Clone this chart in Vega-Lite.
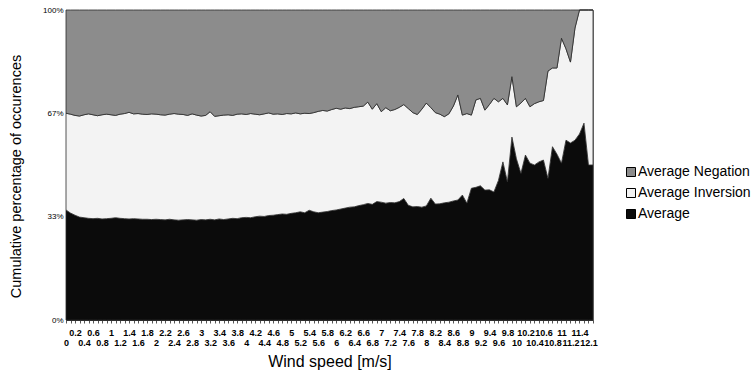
{
  "$schema": "https://vega.github.io/schema/vega-lite/v6.json",
  "width": 527,
  "height": 310,
  "autosize": {"type": "none"},
  "padding": {"left": 66, "top": 10, "right": 162, "bottom": 55},
  "background": "white",
  "config": {
    "font": "Liberation Sans",
    "view": {"stroke": "#808080", "strokeWidth": 1}
  },
  "data": {
    "values": [
      {"speed": "0", "Average": 35.5, "Average Inversion": 31.2, "Average Negation": 33.3},
      {"speed": "0.1", "Average": 34.5, "Average Inversion": 31.9, "Average Negation": 33.6},
      {"speed": "0.2", "Average": 33.8, "Average Inversion": 32.2, "Average Negation": 34.0},
      {"speed": "0.3", "Average": 33.2, "Average Inversion": 32.6, "Average Negation": 34.2},
      {"speed": "0.4", "Average": 33.0, "Average Inversion": 33.2, "Average Negation": 33.8},
      {"speed": "0.5", "Average": 32.8, "Average Inversion": 33.7, "Average Negation": 33.5},
      {"speed": "0.6", "Average": 32.7, "Average Inversion": 33.5, "Average Negation": 33.8},
      {"speed": "0.7", "Average": 32.8, "Average Inversion": 33.1, "Average Negation": 34.1},
      {"speed": "0.8", "Average": 32.6, "Average Inversion": 33.6, "Average Negation": 33.8},
      {"speed": "0.9", "Average": 32.7, "Average Inversion": 33.7, "Average Negation": 33.6},
      {"speed": "1", "Average": 32.8, "Average Inversion": 33.4, "Average Negation": 33.8},
      {"speed": "1.1", "Average": 33.0, "Average Inversion": 33.0, "Average Negation": 34.0},
      {"speed": "1.2", "Average": 32.8, "Average Inversion": 33.6, "Average Negation": 33.6},
      {"speed": "1.3", "Average": 32.7, "Average Inversion": 33.9, "Average Negation": 33.4},
      {"speed": "1.4", "Average": 32.6, "Average Inversion": 34.4, "Average Negation": 33.0},
      {"speed": "1.5", "Average": 32.7, "Average Inversion": 33.8, "Average Negation": 33.5},
      {"speed": "1.6", "Average": 32.6, "Average Inversion": 34.0, "Average Negation": 33.4},
      {"speed": "1.7", "Average": 32.5, "Average Inversion": 33.9, "Average Negation": 33.6},
      {"speed": "1.8", "Average": 32.5, "Average Inversion": 33.8, "Average Negation": 33.7},
      {"speed": "1.9", "Average": 32.4, "Average Inversion": 34.1, "Average Negation": 33.5},
      {"speed": "2", "Average": 32.5, "Average Inversion": 33.9, "Average Negation": 33.6},
      {"speed": "2.1", "Average": 32.4, "Average Inversion": 33.8, "Average Negation": 33.8},
      {"speed": "2.2", "Average": 32.3, "Average Inversion": 33.8, "Average Negation": 33.9},
      {"speed": "2.3", "Average": 32.5, "Average Inversion": 33.9, "Average Negation": 33.6},
      {"speed": "2.4", "Average": 32.3, "Average Inversion": 34.3, "Average Negation": 33.4},
      {"speed": "2.5", "Average": 32.2, "Average Inversion": 34.2, "Average Negation": 33.6},
      {"speed": "2.6", "Average": 32.3, "Average Inversion": 34.0, "Average Negation": 33.7},
      {"speed": "2.7", "Average": 32.4, "Average Inversion": 33.6, "Average Negation": 34.0},
      {"speed": "2.8", "Average": 32.3, "Average Inversion": 34.2, "Average Negation": 33.5},
      {"speed": "2.9", "Average": 32.2, "Average Inversion": 33.9, "Average Negation": 33.9},
      {"speed": "3", "Average": 32.4, "Average Inversion": 33.4, "Average Negation": 34.2},
      {"speed": "3.1", "Average": 32.3, "Average Inversion": 33.7, "Average Negation": 34.0},
      {"speed": "3.2", "Average": 32.5, "Average Inversion": 34.7, "Average Negation": 32.8},
      {"speed": "3.3", "Average": 32.3, "Average Inversion": 33.4, "Average Negation": 34.3},
      {"speed": "3.4", "Average": 32.6, "Average Inversion": 33.3, "Average Negation": 34.1},
      {"speed": "3.5", "Average": 32.4, "Average Inversion": 33.7, "Average Negation": 33.9},
      {"speed": "3.6", "Average": 32.6, "Average Inversion": 33.6, "Average Negation": 33.8},
      {"speed": "3.7", "Average": 32.8, "Average Inversion": 33.2, "Average Negation": 34.0},
      {"speed": "3.8", "Average": 32.7, "Average Inversion": 33.7, "Average Negation": 33.6},
      {"speed": "3.9", "Average": 33.0, "Average Inversion": 33.5, "Average Negation": 33.5},
      {"speed": "4", "Average": 33.1, "Average Inversion": 33.2, "Average Negation": 33.7},
      {"speed": "4.1", "Average": 33.0, "Average Inversion": 33.6, "Average Negation": 33.4},
      {"speed": "4.2", "Average": 33.3, "Average Inversion": 33.1, "Average Negation": 33.6},
      {"speed": "4.3", "Average": 33.5, "Average Inversion": 32.7, "Average Negation": 33.8},
      {"speed": "4.4", "Average": 33.4, "Average Inversion": 33.1, "Average Negation": 33.5},
      {"speed": "4.5", "Average": 33.7, "Average Inversion": 33.1, "Average Negation": 33.2},
      {"speed": "4.6", "Average": 33.8, "Average Inversion": 32.6, "Average Negation": 33.6},
      {"speed": "4.7", "Average": 34.0, "Average Inversion": 32.5, "Average Negation": 33.5},
      {"speed": "4.8", "Average": 34.2, "Average Inversion": 32.1, "Average Negation": 33.7},
      {"speed": "4.9", "Average": 34.1, "Average Inversion": 32.5, "Average Negation": 33.4},
      {"speed": "5", "Average": 34.4, "Average Inversion": 32.1, "Average Negation": 33.5},
      {"speed": "5.1", "Average": 34.6, "Average Inversion": 32.2, "Average Negation": 33.2},
      {"speed": "5.2", "Average": 34.9, "Average Inversion": 31.6, "Average Negation": 33.5},
      {"speed": "5.3", "Average": 34.6, "Average Inversion": 32.1, "Average Negation": 33.3},
      {"speed": "5.4", "Average": 35.4, "Average Inversion": 31.2, "Average Negation": 33.4},
      {"speed": "5.5", "Average": 34.9, "Average Inversion": 32.0, "Average Negation": 33.1},
      {"speed": "5.6", "Average": 34.6, "Average Inversion": 32.7, "Average Negation": 32.7},
      {"speed": "5.7", "Average": 34.8, "Average Inversion": 32.8, "Average Negation": 32.4},
      {"speed": "5.8", "Average": 35.0, "Average Inversion": 32.4, "Average Negation": 32.6},
      {"speed": "5.9", "Average": 35.3, "Average Inversion": 32.6, "Average Negation": 32.1},
      {"speed": "6", "Average": 35.5, "Average Inversion": 32.8, "Average Negation": 31.7},
      {"speed": "6.1", "Average": 35.8, "Average Inversion": 32.2, "Average Negation": 32.0},
      {"speed": "6.2", "Average": 36.1, "Average Inversion": 32.3, "Average Negation": 31.6},
      {"speed": "6.3", "Average": 36.4, "Average Inversion": 31.8, "Average Negation": 31.8},
      {"speed": "6.4", "Average": 36.5, "Average Inversion": 32.1, "Average Negation": 31.4},
      {"speed": "6.5", "Average": 36.9, "Average Inversion": 31.9, "Average Negation": 31.2},
      {"speed": "6.6", "Average": 37.2, "Average Inversion": 31.8, "Average Negation": 31.0},
      {"speed": "6.7", "Average": 37.6, "Average Inversion": 32.7, "Average Negation": 29.7},
      {"speed": "6.8", "Average": 37.3, "Average Inversion": 30.7, "Average Negation": 32.0},
      {"speed": "6.9", "Average": 38.2, "Average Inversion": 31.6, "Average Negation": 30.2},
      {"speed": "7", "Average": 38.0, "Average Inversion": 29.2, "Average Negation": 32.8},
      {"speed": "7.1", "Average": 37.7, "Average Inversion": 30.8, "Average Negation": 31.5},
      {"speed": "7.2", "Average": 37.9, "Average Inversion": 29.6, "Average Negation": 32.5},
      {"speed": "7.3", "Average": 37.8, "Average Inversion": 30.1, "Average Negation": 32.1},
      {"speed": "7.4", "Average": 38.2, "Average Inversion": 30.4, "Average Negation": 31.4},
      {"speed": "7.5", "Average": 39.2, "Average Inversion": 30.3, "Average Negation": 30.5},
      {"speed": "7.6", "Average": 37.0, "Average Inversion": 31.2, "Average Negation": 31.8},
      {"speed": "7.7", "Average": 36.5, "Average Inversion": 30.4, "Average Negation": 33.1},
      {"speed": "7.8", "Average": 36.6, "Average Inversion": 29.7, "Average Negation": 33.7},
      {"speed": "7.9", "Average": 36.4, "Average Inversion": 31.6, "Average Negation": 32.0},
      {"speed": "8", "Average": 36.8, "Average Inversion": 33.2, "Average Negation": 30.0},
      {"speed": "8.1", "Average": 39.3, "Average Inversion": 29.2, "Average Negation": 31.5},
      {"speed": "8.2", "Average": 37.4, "Average Inversion": 29.5, "Average Negation": 33.1},
      {"speed": "8.3", "Average": 37.5, "Average Inversion": 28.9, "Average Negation": 33.6},
      {"speed": "8.4", "Average": 37.8, "Average Inversion": 27.8, "Average Negation": 34.4},
      {"speed": "8.5", "Average": 38.0, "Average Inversion": 28.5, "Average Negation": 33.5},
      {"speed": "8.6", "Average": 38.4, "Average Inversion": 30.6, "Average Negation": 31.0},
      {"speed": "8.7", "Average": 38.7, "Average Inversion": 33.9, "Average Negation": 27.4},
      {"speed": "8.8", "Average": 40.3, "Average Inversion": 25.8, "Average Negation": 33.9},
      {"speed": "8.9", "Average": 37.7, "Average Inversion": 28.9, "Average Negation": 33.4},
      {"speed": "9", "Average": 42.5, "Average Inversion": 23.6, "Average Negation": 33.9},
      {"speed": "9.1", "Average": 42.8, "Average Inversion": 28.2, "Average Negation": 29.0},
      {"speed": "9.2", "Average": 43.3, "Average Inversion": 28.2, "Average Negation": 28.5},
      {"speed": "9.3", "Average": 41.9, "Average Inversion": 25.8, "Average Negation": 32.3},
      {"speed": "9.4", "Average": 42.0, "Average Inversion": 27.5, "Average Negation": 30.5},
      {"speed": "9.5", "Average": 41.3, "Average Inversion": 30.2, "Average Negation": 28.5},
      {"speed": "9.6", "Average": 45.0, "Average Inversion": 25.4, "Average Negation": 29.6},
      {"speed": "9.7", "Average": 51.0, "Average Inversion": 20.5, "Average Negation": 28.5},
      {"speed": "9.8", "Average": 44.6, "Average Inversion": 24.8, "Average Negation": 30.6},
      {"speed": "9.9", "Average": 59.0, "Average Inversion": 19.5, "Average Negation": 21.5},
      {"speed": "10", "Average": 52.0, "Average Inversion": 16.8, "Average Negation": 31.2},
      {"speed": "10.1", "Average": 47.3, "Average Inversion": 22.7, "Average Negation": 30.0},
      {"speed": "10.2", "Average": 53.2, "Average Inversion": 18.3, "Average Negation": 28.5},
      {"speed": "10.3", "Average": 50.6, "Average Inversion": 18.2, "Average Negation": 31.2},
      {"speed": "10.4", "Average": 50.0, "Average Inversion": 19.8, "Average Negation": 30.2},
      {"speed": "10.5", "Average": 51.0, "Average Inversion": 19.4, "Average Negation": 29.6},
      {"speed": "10.6", "Average": 51.6, "Average Inversion": 19.2, "Average Negation": 29.2},
      {"speed": "10.7", "Average": 45.7, "Average Inversion": 34.6, "Average Negation": 19.7},
      {"speed": "10.8", "Average": 55.9, "Average Inversion": 25.4, "Average Negation": 18.7},
      {"speed": "10.9", "Average": 53.5, "Average Inversion": 27.8, "Average Negation": 18.7},
      {"speed": "11", "Average": 50.6, "Average Inversion": 40.3, "Average Negation": 9.1},
      {"speed": "11.1", "Average": 58.0, "Average Inversion": 29.5, "Average Negation": 12.5},
      {"speed": "11.2", "Average": 57.1, "Average Inversion": 26.1, "Average Negation": 16.8},
      {"speed": "11.3", "Average": 58.0, "Average Inversion": 36.2, "Average Negation": 5.8},
      {"speed": "11.4", "Average": 60.0, "Average Inversion": 40.0, "Average Negation": 0},
      {"speed": "11.6", "Average": 63.5, "Average Inversion": 36.5, "Average Negation": 0},
      {"speed": "12.1", "Average": 50.0, "Average Inversion": 50.0, "Average Negation": 0},
      {"speed": "12.4", "Average": 50.0, "Average Inversion": 50.0, "Average Negation": 0}
    ]
  },
  "transform": [
    {"fold": ["Average", "Average Inversion", "Average Negation"], "as": ["series", "share"]}
  ],
  "mark": {"type": "area", "stroke": "#2a2a2a", "strokeWidth": 0.8, "opacity": 1},
  "encoding": {
    "x": {
      "field": "speed",
      "type": "ordinal",
      "sort": null,
      "scale": {"type": "point", "padding": 0},
      "axis": {
        "title": "Wind speed [m/s]",
        "titleFontSize": 16,
        "titleFontWeight": "normal",
        "titleColor": "#000",
        "titlePadding": 6,
        "labelAngle": 0,
        "labelOverlap": false,
        "labelFlush": false,
        "labelFontSize": 9,
        "labelFontWeight": "bold",
        "labelColor": "#000",
        "labelPadding": 5,
        "labelLineHeight": 10,
        "labelExpr": "indexof(['0.2','0.6','1','1.4','1.8','2.2','2.6','3','3.4','3.8','4.2','4.6','5','5.4','5.8','6.2','6.6','7','7.4','7.8','8.2','8.6','9','9.4','9.8','10.2','10.6','11','11.4'], datum.value) >= 0 ? datum.value : (indexof(['0','0.4','0.8','1.2','1.6','2','2.4','2.8','3.2','3.6','4','4.4','4.8','5.2','5.6','6','6.4','6.8','7.2','7.6','8','8.4','8.8','9.2','9.6','10','10.4','10.8','11.2','12.1'], datum.value) >= 0 ? ['', datum.value] : '')",
        "tickSize": 3,
        "tickColor": "#555",
        "domainColor": "#333"
      }
    },
    "y": {
      "field": "share",
      "type": "quantitative",
      "stack": "normalize",
      "scale": {"domain": [0, 1], "nice": false},
      "axis": {
        "title": "Cumulative percentage of occurences",
        "titleFontSize": 14.5,
        "titleFontWeight": "normal",
        "titleColor": "#000",
        "titlePadding": 19,
        "titleY": 166,
        "values": [0, 0.333, 0.667, 1],
        "format": ".0%",
        "labelFontSize": 8,
        "labelColor": "#000",
        "labelPadding": 3,
        "ticks": false,
        "domain": false,
        "grid": false
      }
    },
    "color": {
      "field": "series",
      "type": "nominal",
      "scale": {
        "domain": ["Average Negation", "Average Inversion", "Average"],
        "range": ["#8c8c8c", "#f3f3f3", "#0b0b0b"]
      },
      "legend": {
        "title": null,
        "orient": "none",
        "legendX": 558,
        "legendY": 155,
        "symbolType": "square",
        "symbolSize": 81,
        "symbolStrokeColor": "#000",
        "symbolStrokeWidth": 1,
        "symbolOpacity": 1,
        "labelFontSize": 14,
        "labelColor": "#000",
        "labelOffset": 0,
        "rowPadding": 7
      }
    },
    "order": {"field": "series", "sort": "ascending"}
  }
}
